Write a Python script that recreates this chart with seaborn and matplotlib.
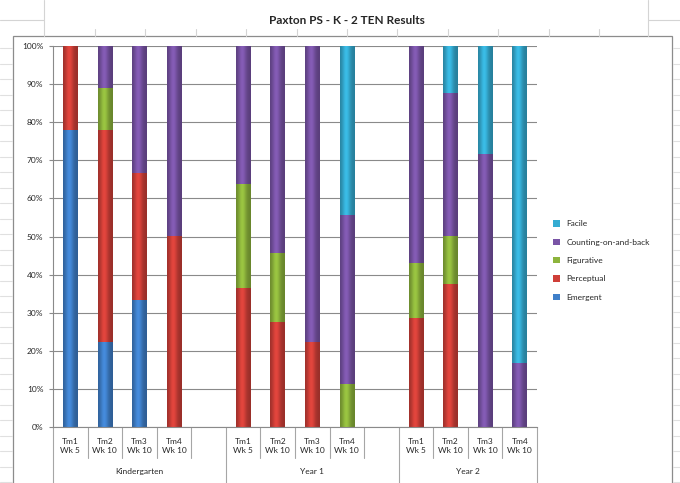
import numpy as np
import pandas as pd
import matplotlib
matplotlib.use("Agg")
import matplotlib.pyplot as plt
import matplotlib.colors as mcolors
from matplotlib.patches import Patch, Rectangle
from matplotlib.lines import Line2D
import seaborn as sns

# slots along the x axis (gap slots stay empty)
slots = ["K1", "K2", "K3", "K4", "Kgap",
         "Y1_1", "Y1_2", "Y1_3", "Y1_4", "Y1gap",
         "Y2_1", "Y2_2", "Y2_3", "Y2_4"]
slot_labels = ["Tm1\nWk 5", "Tm2\nWk 10", "Tm3\nWk 10", "Tm4\nWk 10", "",
               "Tm1\nWk 5", "Tm2\nWk 10", "Tm3\nWk 10", "Tm4\nWk 10", "",
               "Tm1\nWk 5", "Tm2\nWk 10", "Tm3\nWk 10", "Tm4\nWk 10"]
groups = ["Kindergarten", "Year 1", "Year 2"]

levels = ["Emergent", "Perceptual", "Figurative", "Counting-on-and-back", "Facile"]

# percentages per slot
emergent   = [77.8, 22.2, 33.3, 0,    0, 0,    0,    0,    0,    0, 0,    0,    0,    0]
perceptual = [22.2, 55.6, 33.3, 50.0, 0, 36.4, 27.3, 22.2, 0,    0, 28.6, 37.5, 0,    0]
figurative = [0,    11.1, 0,    0,    0, 27.3, 18.2, 0,    11.1, 0, 14.3, 12.5, 0,    0]
counting   = [0,    11.1, 33.3, 50.0, 0, 36.4, 54.5, 77.8, 44.4, 0, 57.1, 37.5, 71.4, 16.7]
facile     = [0,    0,    0,    0,    0, 0,    0,    0,    44.5, 0, 0,    12.5, 28.6, 83.3]

colors = {
    "Emergent": "#3f7fc9",
    "Perceptual": "#cf3f38",
    "Figurative": "#8db43c",
    "Counting-on-and-back": "#7954a6",
    "Facile": "#35acd2",
}

df = pd.DataFrame({"slot": slots, "Emergent": emergent, "Perceptual": perceptual,
                   "Figurative": figurative, "Counting-on-and-back": counting,
                   "Facile": facile})
cum = df[levels].cumsum(axis=1)
cum["slot"] = df["slot"]

sns.set_style("white")
plt.rcParams["font.family"] = ["Lato", "DejaVu Sans"]
txt_col = "#262626"

fig = plt.figure(figsize=(6.8, 4.83), dpi=100)
ax = fig.add_axes([53 / 680, 1 - 427 / 483, (537 - 53) / 680, (427 - 46) / 483])

# stacked bars: draw cumulative totals from the top level down
for lev in reversed(levels):
    sns.barplot(data=cum, x="slot", y=lev, order=slots, color=colors[lev],
                width=0.42, errorbar=None, linewidth=0, saturation=1, ax=ax)

# cylinder-like shading
t = np.linspace(0, 1, 48)
shade = 0.74 + 0.36 * np.exp(-((t - 0.42) / 0.28) ** 2)
for bar in list(ax.patches):
    h = bar.get_height()
    if h <= 0:
        bar.set_visible(False)
        continue
    x0, w = bar.get_x(), bar.get_width()
    rgb = np.array(mcolors.to_rgb(bar.get_facecolor()))
    img = np.clip(rgb[None, None, :] * shade[None, :, None], 0, 1)
    ax.imshow(img, extent=[x0, x0 + w, 0, h], aspect="auto",
              interpolation="bilinear", zorder=bar.get_zorder())
    bar.set_visible(False)

ax.set_xlim(-0.5, len(slots) - 0.5)
ax.set_ylim(0, 100)
ax.set_yticks(np.arange(0, 101, 10))
ax.set_yticklabels([f"{v}%" for v in range(0, 101, 10)])
ax.set_xticks([])
ax.set_xlabel("")
ax.set_ylabel("")
ax.yaxis.grid(True, color="#8a8a8a", linewidth=0.8)
ax.set_axisbelow(True)
ax.tick_params(axis="y", length=3, width=0.8, color="#8a8a8a", pad=4,
               labelsize=6, labelcolor=txt_col, left=True)
for s in ["top", "right"]:
    ax.spines[s].set_visible(False)
for s in ["left", "bottom"]:
    ax.spines[s].set_color("#8a8a8a")
    ax.spines[s].set_linewidth(0.8)

# multi-level category axis
tr = ax.get_xaxis_transform()
group_edges = [-0.5, 4.5, 9.5, 13.5]
for k in range(len(slots) + 1):
    xb = k - 0.5
    low = -0.147 if xb in group_edges else -0.081
    ax.add_line(Line2D([xb, xb], [0, low], transform=tr, color="#a6a6a6",
                       linewidth=0.8, clip_on=False))
for i, lab in enumerate(slot_labels):
    if lab:
        ax.text(i, -0.051, lab, transform=tr, ha="center", va="center",
                fontsize=6, color=txt_col, linespacing=1.35)
for g, xc in zip(groups, [2, 7, 11.5]):
    ax.text(xc, -0.118, g, transform=tr, ha="center", va="center",
            fontsize=6, color=txt_col)

# legend (Excel lists it top level first)
handles = [Patch(facecolor=colors[l], edgecolor="none") for l in reversed(levels)]
fig.legend(handles, list(reversed(levels)), loc="center left",
           bbox_to_anchor=(553 / 680, 1 - 260.5 / 483), frameon=False,
           fontsize=6, handlelength=0.8, handleheight=0.8, handletextpad=0.8,
           labelspacing=1.35, borderpad=0, borderaxespad=0,
           labelcolor=txt_col)

# title and surrounding sheet lines
fig.text(347 / 680, 1 - 20 / 483, "Paxton PS - K - 2 TEN Results",
         ha="center", va="center", fontsize=8.5, fontweight="bold", color=txt_col)

def fline(x0, y0, x1, y1, col="#d4d4d4", lw=0.8):
    fig.add_artist(Line2D([x0 / 680, x1 / 680], [1 - y0 / 483, 1 - y1 / 483],
                          color=col, linewidth=lw))

fline(0, 20, 44, 20)
fline(648, 20, 680, 20)
fline(44, 0, 44, 36)
fline(648, 0, 648, 36)
for xc in np.arange(95, 640, 50.4):
    fline(xc, 29, xc, 36)
for yc in np.arange(48, 483, 15.5):
    fline(0, yc, 12, yc, col="#e0e0e0")
    fline(673, yc, 680, yc, col="#e0e0e0")

fig.add_artist(Rectangle((13 / 680, -0.02), (672 - 13) / 680, 1 - 36 / 483 + 0.02,
                         transform=fig.transFigure, fill=False,
                         edgecolor="#8c8c8c", linewidth=0.9))

fig.savefig("out.png", dpi=100)
